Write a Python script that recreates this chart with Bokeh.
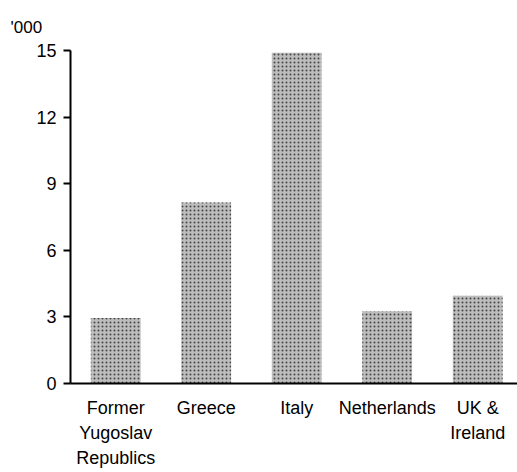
from bokeh.plotting import figure
from bokeh.models import Range1d, FixedTicker, ColumnDataSource
from bokeh.embed import file_html
from bokeh.resources import INLINE

categories = ["Former\nYugoslav\nRepublics", "Greece", "Italy", "Netherlands", "UK &\nIreland"]
values = [2.95, 8.15, 14.9, 3.25, 3.95]
y_ticks = [0, 3, 6, 9, 12, 15]
unit_label = "'000"

xs = list(range(len(categories)))
src = ColumnDataSource(dict(x=xs, top=values))

FONT = "Liberation Sans"
W, H = 517, 472
TOP, BOTTOM, LEFT = 50, 89, 70
X0, X1 = -0.5, 4.44
Y0, Y1 = 0, 15

p = figure(width=W, height=H, output_backend="svg", toolbar_location=None,
           x_range=Range1d(X0, X1), y_range=Range1d(Y0, Y1), title=unit_label)
p.min_border_left = LEFT
p.min_border_right = 0
p.min_border_top = TOP
p.min_border_bottom = BOTTOM
p.outline_line_color = None
p.grid.visible = False
p.background_fill_color = "white"
p.border_fill_color = "white"

p.title.align = "left"
p.title.offset = -60
p.title.text_font = FONT
p.title.text_font_size = "17px"
p.title.text_font_style = "normal"
p.title.text_color = "black"
p.title.standoff = 28

p.vbar(x="x", top="top", width=0.55, source=src, fill_color="#bdbdbd", line_color=None,
       hatch_pattern="dot", hatch_color="#444444", hatch_scale=4, hatch_weight=2.2)

ya = p.yaxis[0]
ya.ticker = FixedTicker(ticks=y_ticks)
ya.axis_line_width = 2
ya.axis_line_color = "black"
ya.major_tick_line_width = 2
ya.major_tick_in = 0
ya.major_tick_out = 7
ya.minor_tick_line_color = None
ya.major_label_text_font = FONT
ya.major_label_text_font_size = "18px"
ya.major_label_text_color = "black"
ya.major_label_standoff = 7

xa = p.xaxis[0]
xa.ticker = FixedTicker(ticks=xs)
xa.major_label_overrides = {i: c for i, c in zip(xs, categories)}
xa.axis_line_width = 2
xa.axis_line_color = "black"
xa.major_tick_line_color = None
xa.minor_tick_line_color = None
xa.major_label_text_font = FONT
xa.major_label_text_font_size = "18px"
xa.major_label_text_color = "black"
xa.major_label_standoff = 8
xa.major_label_text_line_height = 1.25

open("out.html", "w").write(file_html(p, INLINE))
